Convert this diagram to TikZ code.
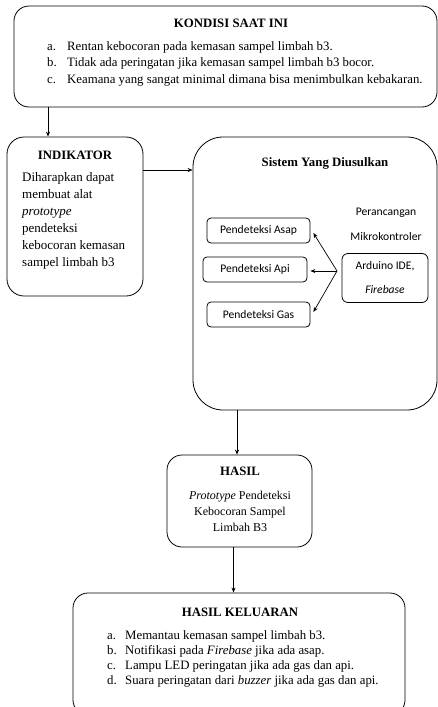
\documentclass[tikz,border=0pt]{standalone}
\usepackage{fontspec}
\setmainfont{Liberation Serif}
\newfontfamily\calfont{Carlito}
\usetikzlibrary{arrows.meta}
\tikzset{
  bigbox/.style={draw, line width=0.8pt, rounded corners=15pt, inner sep=0pt},
  smallbox/.style={draw, line width=0.8pt, rounded corners=4pt, inner sep=0pt, font=\calfont\fontsize{11.6}{13}\selectfont},
  arr/.style={line width=0.7pt, -{Stealth[length=5pt,width=4pt]}},
  ttl/.style={font=\bfseries\fontsize{12.8}{14}\selectfont, inner sep=0pt},
}
\begin{document}
\begin{tikzpicture}[x=1pt,y=-1pt]
\useasboundingbox (0,0) rectangle (438,707);
\clip (0,0) rectangle (438,707);
% boxes
\node[bigbox, minimum width=423pt, minimum height=101pt] (kon) at (225.5,56.5) {};
\node[bigbox, rounded corners=17pt, minimum width=136pt, minimum height=159pt] (ind) at (75,216.5) {};
\node[bigbox, rounded corners=30pt, minimum width=244pt, minimum height=273pt] (sis) at (315,273.5) {};
\node[smallbox, minimum width=103pt, minimum height=25pt] (asap) at (258.5,230.5) {Pendeteksi Asap};
\node[smallbox, minimum width=104pt, minimum height=25pt] (api) at (255,269.5) {Pendeteksi Api};
\node[smallbox, minimum width=103pt, minimum height=25pt] (gas) at (258.5,314.5) {Pendeteksi Gas};
\node[smallbox, rounded corners=6pt, minimum width=86pt, minimum height=49pt, align=center, font=\calfont\fontsize{11.6}{24}\selectfont] (ard) at (385,278) {Arduino IDE,\\\textit{Firebase}};
\node[bigbox, minimum width=145pt, minimum height=92pt] (has) at (239.5,501) {};
\node[bigbox, minimum width=332pt, minimum height=122pt] (kel) at (239,654) {};
% texts
\node[ttl] (konT) at (231,23) {KONDISI SAAT INI};
\node[anchor=north west, inner sep=0pt, align=left, font=\fontsize{12.8}{16.5}\selectfont] (konL) at (47,41)
  {\makebox[20pt][l]{a.}Rentan kebocoran pada kemasan sampel limbah b3.\\
   \makebox[20pt][l]{b.}Tidak ada peringatan jika kemasan sampel limbah b3 bocor.\\
   \makebox[20pt][l]{c.}Keamana yang sangat minimal dimana bisa menimbulkan kebakaran.};
\node[ttl] (indT) at (75,155) {INDIKATOR};
\node[anchor=north west, inner sep=0pt, align=left, font=\fontsize{13}{17}\selectfont] (indL) at (22,172)
  {Diharapkan dapat\\membuat alat\\\textit{prototype}\\pendeteksi\\kebocoran kemasan\\sampel limbah b3};
\node[ttl] (sisT) at (325,163) {Sistem Yang Diusulkan};
\node[inner sep=0pt, align=center, font=\calfont\fontsize{11.6}{25}\selectfont] (per) at (386,224.5) {Perancangan\\Mikrokontroler};
\node[ttl] (hasT) at (240,471) {HASIL};
\node[inner sep=0pt, align=center, font=\fontsize{12}{16}\selectfont] (hasL) at (240,511) {\textit{Prototype} Pendeteksi\\Kebocoran Sampel\\Limbah B3};
\node[ttl] (kelT) at (240,612) {HASIL KELUARAN};
\node[anchor=north west, inner sep=0pt, align=left, font=\fontsize{12.8}{15}\selectfont] (kelL) at (107,630)
  {\makebox[18pt][l]{a.}Memantau kemasan sampel limbah b3.\\
   \makebox[18pt][l]{b.}Notifikasi pada \textit{Firebase} jika ada asap.\\
   \makebox[18pt][l]{c.}Lampu LED peringatan jika ada gas dan api.\\
   \makebox[18pt][l]{d.}Suara peringatan dari \textit{buzzer} jika ada gas dan api.};
% connectors
\draw[arr] ([xshift=-27pt]ind.north |- kon.south) -- ([xshift=-27pt]ind.north);
\coordinate (indE) at ([yshift=46.5pt]ind.east);
\draw[arr] (indE) -- (sis.west |- indE);
\draw[arr] ([xshift=-2.5pt]has.north |- sis.south) -- ([xshift=-2.5pt]has.north);
\draw[arr] ([xshift=-6pt]has.south) -- ([xshift=-6pt]has.south |- kel.north);
\coordinate (hub) at (337,271);
\draw[arr] (hub) -- ([shift={(3pt,-2.5pt)}]asap.east);
\draw[arr] (hub) -- ([shift={(3pt,-1.5pt)}]api.east);
\draw[arr] (hub) -- ([shift={(3pt,2.5pt)}]gas.east);
\end{tikzpicture}
\end{document}
